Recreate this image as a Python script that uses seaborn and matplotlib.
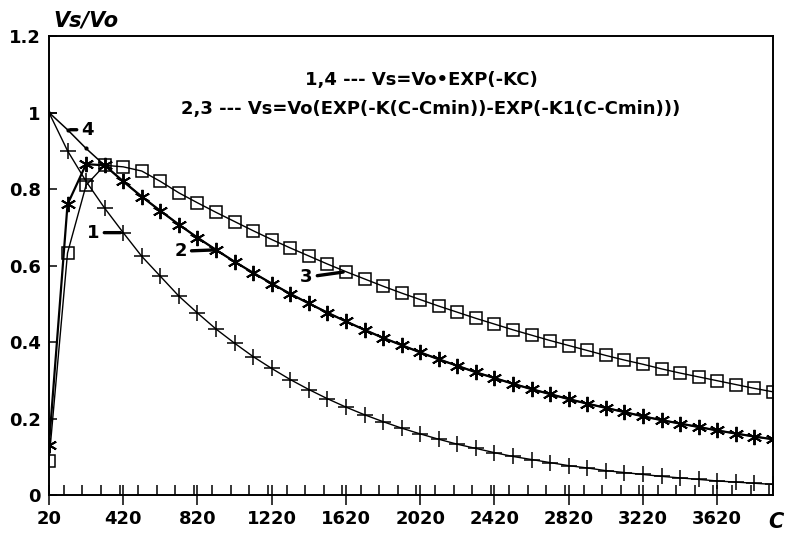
import matplotlib
matplotlib.use("Agg")
import matplotlib.pyplot as plt
import pandas as pd
import seaborn as sns
from matplotlib.ticker import MultipleLocator

# concentration C, one point every 100 from 20 to 3920
c_vals = [20, 120, 220, 320, 420, 520, 620, 720, 820, 920,
          1020, 1120, 1220, 1320, 1420, 1520, 1620, 1720, 1820, 1920,
          2020, 2120, 2220, 2320, 2420, 2520, 2620, 2720, 2820, 2920,
          3020, 3120, 3220, 3320, 3420, 3520, 3620, 3720, 3820, 3920]

# curve 1 (+)
curve1 = [1.0, 0.90, 0.82, 0.75, 0.686, 0.624, 0.572, 0.52, 0.476, 0.434,
          0.397, 0.362, 0.331, 0.302, 0.276, 0.252, 0.230, 0.210, 0.192, 0.175,
          0.160, 0.146, 0.133, 0.122, 0.111, 0.101, 0.093, 0.085, 0.077, 0.071,
          0.064, 0.059, 0.054, 0.049, 0.045, 0.041, 0.037, 0.034, 0.031, 0.028]

# curve 2 (asterisks)
curve2 = [0.13, 0.76, 0.865, 0.862, 0.82, 0.78, 0.743, 0.707, 0.673, 0.641,
          0.610, 0.581, 0.553, 0.526, 0.501, 0.477, 0.454, 0.432, 0.411, 0.392,
          0.373, 0.355, 0.338, 0.321, 0.306, 0.291, 0.277, 0.264, 0.251, 0.239,
          0.228, 0.217, 0.206, 0.196, 0.187, 0.178, 0.169, 0.161, 0.153, 0.146]

# curve 3 (squares)
curve3 = [0.09, 0.633, 0.81, 0.862, 0.858, 0.847, 0.82, 0.79, 0.764, 0.739,
          0.715, 0.691, 0.668, 0.646, 0.625, 0.604, 0.584, 0.565, 0.546, 0.528,
          0.511, 0.494, 0.478, 0.462, 0.447, 0.432, 0.418, 0.404, 0.391, 0.378,
          0.365, 0.353, 0.342, 0.330, 0.319, 0.309, 0.299, 0.289, 0.279, 0.270]

# curve 4 (small dots, runs under curve 2 after the peak)
curve4 = [1.0, 0.955, 0.906, 0.862, 0.82, 0.78, 0.743, 0.707, 0.673, 0.641,
          0.610, 0.581, 0.553, 0.526, 0.501, 0.477, 0.454, 0.432, 0.411, 0.392,
          0.373, 0.355, 0.338, 0.321, 0.306, 0.291, 0.277, 0.264, 0.251, 0.239,
          0.228, 0.217, 0.206, 0.196, 0.187, 0.178, 0.169, 0.161, 0.153, 0.146]

x_ticks = [20, 420, 820, 1220, 1620, 2020, 2420, 2820, 3220, 3620]
y_ticks = [0, 0.2, 0.4, 0.6, 0.8, 1.0, 1.2]
y_ticklabels = ['0', '0.2', '0.4', '0.6', '0.8', '1', '1.2']

df = pd.DataFrame({'C': c_vals, 'c1': curve1, 'c2': curve2, 'c3': curve3, 'c4': curve4})

sns.set_style("ticks")
plt.rcParams['font.family'] = ['DejaVu Sans']
plt.rcParams['font.weight'] = 'bold'
plt.rcParams['text.color'] = 'black'
plt.rcParams['xtick.color'] = 'black'
plt.rcParams['ytick.color'] = 'black'
plt.rcParams['axes.edgecolor'] = 'black'

fig = plt.figure(figsize=(7.86, 5.37), dpi=100)
ax = fig.add_axes([0.0623, 0.078, 0.921, 0.855])

sns.lineplot(data=df, x='C', y='c4', ax=ax, color='black', lw=1.1,
             marker='o', markersize=3, markeredgewidth=0)
sns.lineplot(data=df, x='C', y='c2', ax=ax, color='black', lw=1.6,
             marker=(6, 2, 0), markersize=11, markeredgewidth=1.4,
             markeredgecolor='black')
sns.lineplot(data=df, x='C', y='c3', ax=ax, color='black', lw=1.0,
             marker='s', markersize=8, markerfacecolor='none',
             markeredgecolor='black', markeredgewidth=1.1)
sns.lineplot(data=df, x='C', y='c1', ax=ax, color='black', lw=1.0,
             marker='+', markersize=12, markeredgewidth=1.1,
             markeredgecolor='black')

ax.set_xlim(20, 3920)
ax.set_ylim(0, 1.2)
ax.set_xticks(x_ticks)
ax.set_xticklabels([str(v) for v in x_ticks])
ax.xaxis.set_minor_locator(MultipleLocator(100))
ax.set_yticks(y_ticks)
ax.set_yticklabels(y_ticklabels)
ax.tick_params(axis='x', which='major', direction='inout', length=14, width=1.1,
               labelsize=13, pad=4, colors='black')
ax.tick_params(axis='x', which='minor', direction='in', length=7, width=1.1,
               colors='black')
ax.tick_params(axis='y', which='major', direction='in', length=6, width=1.1,
               labelsize=13, pad=6, colors='black')
for s in ax.spines.values():
    s.set_linewidth(1.4)
    s.set_color('black')
ax.set_xlabel('')
ax.set_ylabel('')

# axis titles placed like the original
fig.text(0.068, 0.962, 'Vs/Vo', fontsize=15, fontweight='bold', style='italic',
         ha='left', va='center')
fig.text(0.987, 0.028, 'C', fontsize=15, fontweight='bold', style='italic',
         ha='center', va='center')

# formulas
ax.text(0.354, 0.904, '1,4 --- Vs=Vo•EXP(-KC)', transform=ax.transAxes,
        fontsize=13, fontweight='bold', ha='left', va='center')
ax.text(0.183, 0.841, '2,3 --- Vs=Vo(EXP(-K(C-Cmin))-EXP(-K1(C-Cmin)))',
        transform=ax.transAxes, fontsize=13, fontweight='bold',
        ha='left', va='center')

# curve numbers with short leader dashes
def tag(txt, x, y, dx, dy, ha):
    ax.annotate(txt, xy=(x, y), xytext=(dx, dy), textcoords='offset points',
                ha=ha, va='center', fontsize=13, fontweight='bold',
                arrowprops=dict(arrowstyle='-', lw=2.4, color='black',
                                shrinkA=1, shrinkB=2))

tag('1', c_vals[4], curve1[4], -17, 0, 'right')
tag('2', c_vals[9], curve2[9], -21, -1, 'right')
tag('3', c_vals[16], curve3[16], -24, -4, 'right')
tag('4', c_vals[1], curve4[1], 10, 0, 'left')

fig.savefig('out.png', dpi=100)
